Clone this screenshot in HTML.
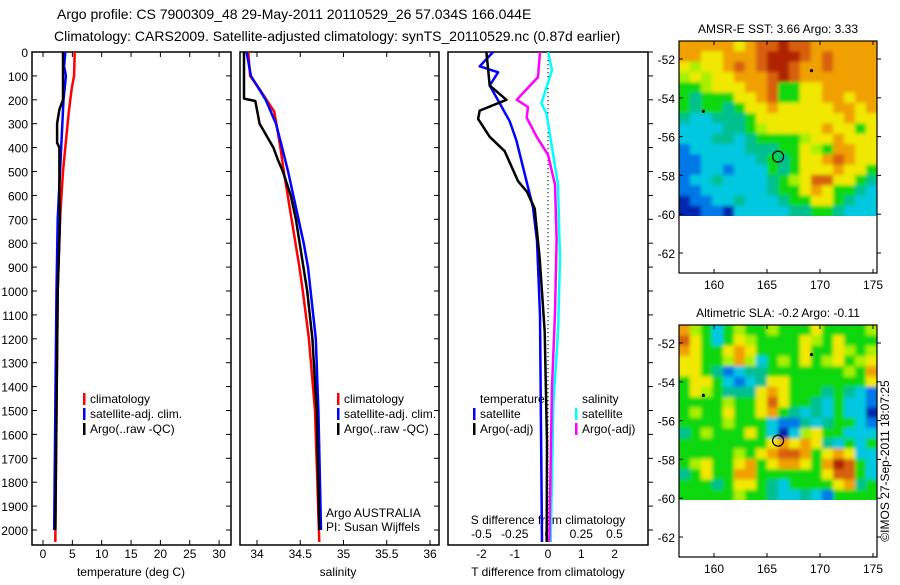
<!DOCTYPE html>
<html><head><meta charset="utf-8">
<style>
body{margin:0;background:#fff;width:900px;height:580px;overflow:hidden;font-family:"Liberation Sans",sans-serif;}
svg text{font-family:"Liberation Sans",sans-serif;fill:#000;}
</style></head>
<body>
<svg id="chart" width="900" height="580" viewBox="0 0 900 580" xmlns="http://www.w3.org/2000/svg">
<defs>
<filter id="soft" x="-5%" y="-5%" width="110%" height="110%"><feGaussianBlur stdDeviation="1.8"/></filter>
<clipPath id="clip1"><rect x="679" y="41" width="198" height="175"/></clipPath>
<clipPath id="clip2"><rect x="679" y="325" width="198" height="175"/></clipPath>
</defs>
<text x="57" y="19" font-size="14">Argo profile: CS 7900309_48 29-May-2011 20110529_26 57.034S 166.044E</text>
<text x="54" y="41" font-size="14">Climatology: CARS2009. Satellite-adjusted climatology: synTS_20110529.nc (0.87d earlier)</text>
</svg>
<script>
// ---------- data ----------
const depthTicks=[0,100,200,300,400,500,600,700,800,900,1000,1100,1200,1300,1400,1500,1600,1700,1800,1900,2000];
const tempTicks=[0,5,10,15,20,25,30];
const salTicks=[34,34.5,35,35.5,36];
const tdiffTicks=[-2,-1,0,1,2];
const sdiffTicks=[-0.5,-0.25,0,0.25,0.5];
const tempClimDepth=[0,100,150,250,400,500,700,1000,1500,2050];
const tempClim=[5.4,5.3,4.9,4.4,3.8,3.4,2.9,2.5,2.3,2.1];
const tempSatDepth=[0,60,100,200,400,700,1000,1500,2000];
const tempSat=[3.8,3.6,3.9,3.5,3.1,2.5,2.3,2.1,1.9];
const tempArgoDepth=[0,200,240,300,380,400,600,700,1000,1500,2000];
const tempArgo=[3.4,3.4,2.8,2.4,2.4,2.8,2.8,2.9,2.5,2.3,2.1];
const salClimDepth=[0,100,150,250,400,500,700,900,1000,1200,1500,2050];
const salClim=[33.9,33.92,34.02,34.2,34.27,34.31,34.4,34.49,34.53,34.6,34.67,34.72];
const salSatDepth=[0,100,200,300,400,500,600,700,800,900,1000,1200,1500,2000];
const salSat=[33.88,33.93,34.1,34.22,34.29,34.36,34.42,34.48,34.54,34.59,34.62,34.68,34.71,34.74];
const salArgoDepth=[0,195,205,300,400,450,500,600,700,1000,1200,1500,2000];
const salArgo=[33.85,33.85,33.98,34.03,34.19,34.24,34.3,34.39,34.45,34.58,34.64,34.69,34.72];
const tdSatDepth=[0,60,85,140,190,290,370,510,650,790,1100,2050];
const tdSat=[-1.65,-2.05,-1.5,-1.75,-1.55,-1.15,-0.95,-0.7,-0.45,-0.33,-0.24,-0.18];
const tdArgoDepth=[0,140,200,245,280,355,415,540,585,655,865,1170,1635,2050];
const tdArgo=[-1.85,-1.75,-1.25,-2.05,-2.1,-1.75,-1.3,-0.9,-0.63,-0.4,-0.25,-0.1,-0.03,-0.04];
const sdSatDepth=[0,75,215,260,400,555,865,1170,1480,2050];
const sdSat=[0,0.03,-0.05,-0.01,0.03,0.075,0.09,0.075,0.04,0.02];
const sdArgoDepth=[0,105,200,230,275,355,430,555,785,1095,1400,2050];
const sdArgo=[-0.06,-0.075,-0.235,-0.15,-0.16,-0.085,0,0.053,0.065,0.053,0.03,0.01];
const lonTicks=[160,165,170,175];
const latTicks=[52,54,56,58,60,62];
const sstGrid=[
"OOOOOYORRDRROOOOOO","OOYYOOORDDDROROOOO","YLYYORORDDROOROOOO","LYLYYOOORDROOOOOOO",
"GGLYYYOORGGYYOOOOO","GTGGGYYORGGYYOOYOO","GTGGTGYYOYYYYYOOYO","TCCTTTGYYYYYYYYOYY",
"CCCCTTGLYYYYYOYYGY","CCCTTCTGGGGLYYOYYY","BCCCCCTTTGGYLGOOYY","BBCCCCCTGTGYYOROYY",
"BBCCBCCCGTGYYYOYYG","BCCTCCCCTGLYRRYYGT","BBCCCCCCTGGYOYGGTC","NBBCCTCCCTGGYYGTCC","NNBBNCCCCCTTGGTCCC"];
const slaGrid=[
"OLGCGLGGLGGGYGGGGL","RYGCGYLGGGGYLGYGGG","OYGGYOYGGGGYGGYLGL","YYGGLOLCGLGYGLYGLY",
"YYGTBCTTGGGGGGGLGO","GYYGCBCTYYGGGGGGGY","GYLGTTTYOYGGGTGTCB","GGGGLGGYRYGGTCGCCB",
"GLGGYGGYOGTCTCGCCN","GGGGLGGGCBBTCTGGCB","TGLGGGYGCNCLYGGCCC","GGGGGGGGYOYOYTCGCG",
"GGGGGLGYORROGYOYCC","GLYGGYOGYOOYGODRGC","TGYGGOOGGGGGGYRRGC","GGGTGYYGTCGGGGYOTG","GGGGGLGGTCCTCBGGGG"];

// ---------- helpers ----------
const NS="http://www.w3.org/2000/svg";
const svg=document.getElementById('chart');
function mk(tag,attrs,parent){const e=document.createElementNS(NS,tag);for(const k in attrs)e.setAttribute(k,attrs[k]);(parent||svg).appendChild(e);return e;}
const yD=d=>52+0.239*d;
const PY0=52,PY1=545;
function stepPath(depths,vals,xf){
  let p='';
  for(let i=0;i<depths.length;i++){
    const x=xf(vals[i]).toFixed(1),y=yD(depths[i]).toFixed(1);
    p+=(i?'L':'M')+x+' '+y;
  }
  return p;
}
function panel(name,x0,x1){
  const g=mk('g',{});
  
  
  const r=mk('rect',{x:x0,y:PY0,width:x1-x0,height:PY1-PY0,fill:'none',stroke:'#000','stroke-width':1.5},g);
  
  
  return g;
}
function line(g,name,depths,vals,xf,color,w){
  const p=mk('path',{d:stepPath(depths,vals,xf),fill:'none',stroke:color,'stroke-width':w||2.5,'stroke-linejoin':'round'},g);
  
  
}
function txt(g,name,x,y,s,size,anchor){
  const t=mk('text',{x:x,y:y,'font-size':size||12,'text-anchor':anchor||'start'},g);
  t.textContent=s;
  
  
  return t;
}
function legend(g,prefix,x,y,items){
  items.forEach((it,i)=>{
    const yy=y+i*15;
    if(it[1]){const b=mk('rect',{x:x,y:yy-10,width:2.5,height:12,fill:it[1]},g);
    
    }
    txt(g,prefix+'-label',x+7,yy,it[0],12);
  });
}

// ---------- depth axis ----------
const ax=mk('g',{});


depthTicks.forEach(d=>{txt(ax,'depth-tick-label',28,yD(d)+5,String(d),12,'end');});

// ---------- panel 1: temperature ----------
const xT=v=>43+5.87*v;
const p1=panel('temperature-panel',32,231);
depthTicks.forEach(d=>{mk('line',{x1:32,x2:37,y1:yD(d),y2:yD(d),stroke:'#000'},p1);mk('line',{x1:226,x2:231,y1:yD(d),y2:yD(d),stroke:'#000'},p1);});
tempTicks.forEach(t=>{const x=xT(t);mk('line',{x1:x,x2:x,y1:PY0,y2:PY0+5,stroke:'#000'},p1);mk('line',{x1:x,x2:x,y1:PY1-5,y2:PY1,stroke:'#000'},p1);txt(p1,'temperature-tick-label',x,558,String(t),12,'middle');});
txt(p1,'temperature-axis-title',131,576,'temperature (deg C)',12,'middle');
line(p1,'temperature-climatology-line',tempClimDepth,tempClim,xT,'#ff0000');
line(p1,'temperature-satellite-line',tempSatDepth,tempSat,xT,'#0000ff');
line(p1,'temperature-argo-line',tempArgoDepth,tempArgo,xT,'#000000');
legend(p1,'temperature-legend',83,403,[['climatology','#ff0000'],['satellite-adj. clim.','#0000ff'],['Argo(..raw -QC)','#000']]);

// ---------- panel 2: salinity ----------
const xS=v=>257+86.5*(v-34);
const p2=panel('salinity-panel',240,439);
depthTicks.forEach(d=>{mk('line',{x1:434,x2:439,y1:yD(d),y2:yD(d),stroke:'#000'},p2);});
salTicks.forEach(t=>{const x=xS(t);mk('line',{x1:x,x2:x,y1:PY0,y2:PY0+5,stroke:'#000'},p2);mk('line',{x1:x,x2:x,y1:PY1-5,y2:PY1,stroke:'#000'},p2);txt(p2,'salinity-tick-label',x,558,String(t),12,'middle');});
txt(p2,'salinity-axis-title',338,576,'salinity',12,'middle');
line(p2,'salinity-climatology-line',salClimDepth,salClim,xS,'#ff0000');
line(p2,'salinity-satellite-line',salSatDepth,salSat,xS,'#0000ff');
line(p2,'salinity-argo-line',salArgoDepth,salArgo,xS,'#000000');
legend(p2,'salinity-legend',337,403,[['climatology','#ff0000'],['satellite-adj. clim.','#0000ff'],['Argo(..raw -QC)','#000']]);
txt(p2,'argo-australia-label',326,517,'Argo AUSTRALIA',12);
txt(p2,'pi-label',326,531,'PI: Susan Wijffels',12);

// ---------- panel 3: differences ----------
const xTd=v=>548+33.3*v;
const xSd=v=>548+133*v;
const p3=panel('difference-panel',448,648);
depthTicks.forEach(d=>{mk('line',{x1:648,x2:653,y1:yD(d),y2:yD(d),stroke:'#000'},p3);});
const dot=mk('line',{x1:548,x2:548,y1:PY0,y2:PY1-20,stroke:'#000','stroke-dasharray':'1.2,2.8'},p3);


tdiffTicks.forEach(t=>{const x=xTd(t);txt(p3,'tdiff-tick-label',x,558,String(t),12,'middle');});
sdiffTicks.forEach(t=>{const x=xSd(t);txt(p3,'sdiff-tick-label',x,538,String(t),12,'middle');});
txt(p3,'sdiff-axis-title',548,524,'S difference from climatology',12,'middle');
txt(p3,'tdiff-axis-title',548,576,'T difference from climatology',12,'middle');
line(p3,'salinity-satellite-diff-line',sdSatDepth,sdSat,xSd,'#00ffff');
line(p3,'salinity-argo-diff-line',sdArgoDepth,sdArgo,xSd,'#ff00ff');
line(p3,'temperature-satellite-diff-line',tdSatDepth,tdSat,xTd,'#0000ff');
line(p3,'temperature-argo-diff-line',tdArgoDepth,tdArgo,xTd,'#000000');
legend(p3,'tdiff-legend',473,403,[['temperature',null],['satellite','#0000ff'],['Argo(-adj)','#000']]);
legend(p3,'sdiff-legend',575,403,[['salinity',null],['satellite','#00ffff'],['Argo(-adj)','#ff00ff']]);

// ---------- maps ----------
const cmap={D:'#b02000',R:'#d86010',O:'#f0a000',Y:'#f0e800',L:'#a8f000',G:'#10d810',T:'#00c090',C:'#00c8e0',B:'#0078e8',N:'#0028b0'};
function map(name,top,title,grid,clipId){
  const g=mk('g',{});
  
  
  const L=679,R=877,B=top+232;
  const lonX=lon=>714+(lon-160)*10.6;
  const latY=lat=>top+18+(lat-52)*19.4;
  txt(g,name+'-title',778,top-8,title,12,'middle');
  const colorBottom=latY(60.1);
  const clipG=mk('g',{'clip-path':'url(#'+clipId+')'},g);
  
  
  const cells=mk('g',{filter:'url(#soft)'},clipG);
  const rows=grid.length,cw=(R-L)/18,ch=(colorBottom-top)/rows;
  grid.forEach((row,ri)=>{
    for(let ci=-1;ci<=18;ci++){
      const k=row[Math.max(0,Math.min(17,ci))]||'G';
      for(const rr of (ri===rows-1?[ri,ri+1]:(ri===0?[-1,0]:[ri]))){
        const c=mk('rect',{x:(L+ci*cw).toFixed(2),y:(top+rr*ch).toFixed(2),width:(cw+0.6).toFixed(2),height:(ch+0.6).toFixed(2),fill:cmap[k]},cells);
        
        
      }
    }
  });
  const fr=mk('rect',{x:L,y:top,width:R-L,height:B-top,fill:'none',stroke:'#000','stroke-width':1.2},g);
  
  
  lonTicks.forEach(lo=>{const x=lonX(lo);mk('line',{x1:x,x2:x,y1:top,y2:top+4,stroke:'#000'},g);mk('line',{x1:x,x2:x,y1:B-4,y2:B,stroke:'#000'},g);txt(g,name+'-lon-label',x,B+16,String(lo),12,'middle');});
  latTicks.forEach(la=>{const y=latY(la);mk('line',{x1:L,x2:L+4,y1:y,y2:y,stroke:'#000'},g);mk('line',{x1:R,x2:R+4,y1:y,y2:y,stroke:'#000'},g);txt(g,name+'-lat-label',675,y+5,'-'+la,12,'end');});
  const m=mk('circle',{cx:lonX(166.044),cy:latY(57.034),r:5.5,fill:'none',stroke:'#000','stroke-width':1.2},g);
  
  
  [[169.2,52.6],[159,54.7]].forEach(p=>{const d=mk('circle',{cx:lonX(p[0]),cy:latY(p[1]),r:1.6,fill:'#000'},g);
    
    });
}
map('sst-map',41,'AMSR-E SST: 3.66 Argo: 3.33',sstGrid,'clip1');
map('sla-map',325,'Altimetric SLA: -0.2 Argo: -0.11',slaGrid,'clip2');
const st=txt(svg,'imos-stamp',0,0,'\u00a9IMOS 27-Sep-2011 18:07:25',12,'middle');
st.setAttribute('transform','translate(889,461) rotate(-90)');
</script>
</body></html>
